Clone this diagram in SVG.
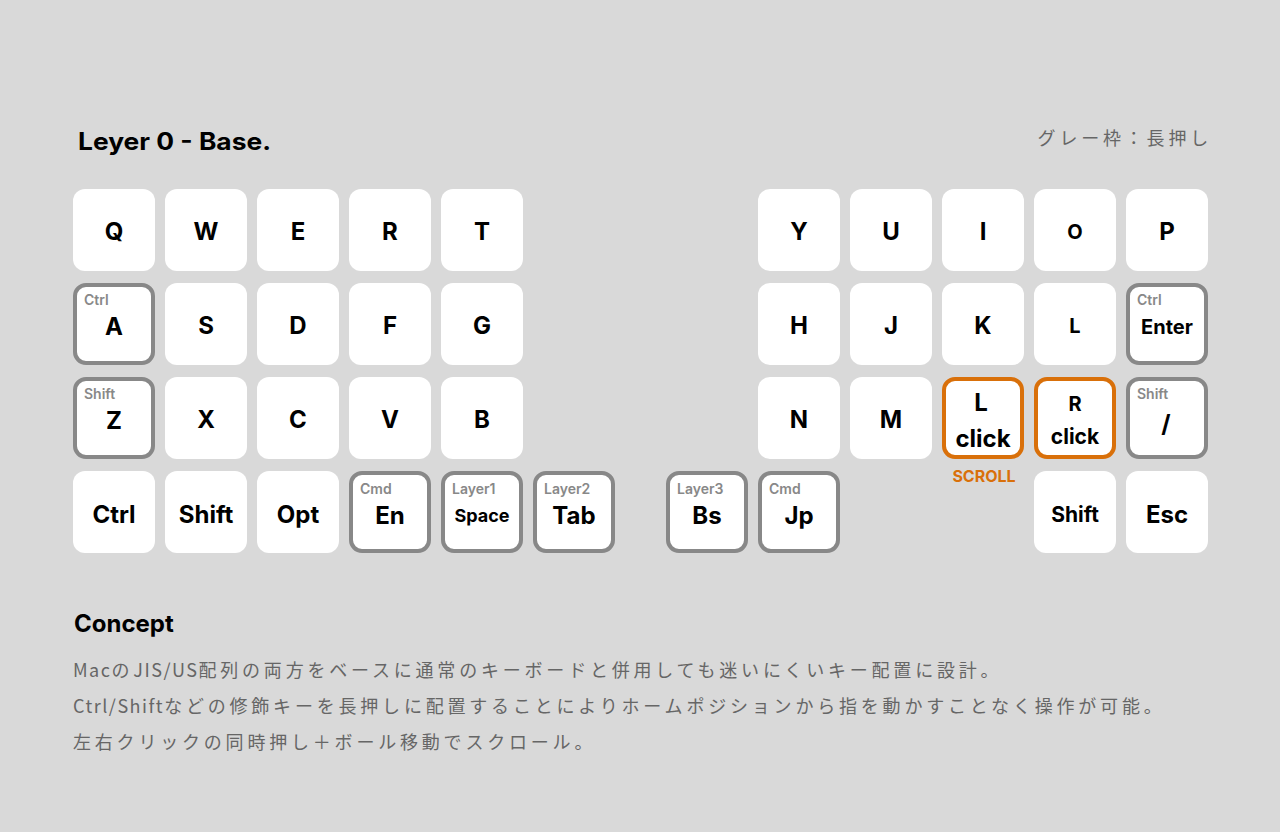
<svg xmlns="http://www.w3.org/2000/svg" width="1280" height="832" viewBox="0 0 1280 832">
<style>
.bg{fill:#d9d9d9}
.k{fill:#ffffff}
.km{fill:#ffffff;stroke:#888888;stroke-width:4}
.ko{fill:#ffffff;stroke:#d9700a;stroke-width:4}
.t{font-family:Inter,"Noto Sans",sans-serif;font-weight:700;fill:#000;text-anchor:middle}
.s{font-family:Inter,"Noto Sans",sans-serif;font-weight:600;fill:#888;font-size:14px}
.h{font-family:Inter,"Noto Sans",sans-serif;font-weight:700;fill:#000;font-size:24px}
.j{font-family:"Noto Sans CJK JP",sans-serif;fill:#666;font-size:18px;letter-spacing:3.8px}
.lt{letter-spacing:1.5px}
</style>
<rect class="bg" x="0" y="0" width="1280" height="832"/>
<text class="h" x="78" y="150" textLength="193" lengthAdjust="spacingAndGlyphs">Leyer 0 - Base.</text>
<text class="j" x="1212" y="145" text-anchor="end">グレー枠：長押し</text>

<g id="key-q"><rect class="k" x="73" y="189" width="82" height="82" rx="12"/><text class="t" x="114" y="240" font-size="24">Q</text></g>
<g id="key-w"><rect class="k" x="165" y="189" width="82" height="82" rx="12"/><text class="t" x="206" y="240" font-size="24">W</text></g>
<g id="key-e"><rect class="k" x="257" y="189" width="82" height="82" rx="12"/><text class="t" x="298" y="240" font-size="24">E</text></g>
<g id="key-r"><rect class="k" x="349" y="189" width="82" height="82" rx="12"/><text class="t" x="390" y="240" font-size="24">R</text></g>
<g id="key-t"><rect class="k" x="441" y="189" width="82" height="82" rx="12"/><text class="t" x="482" y="240" font-size="24">T</text></g>
<g id="key-y"><rect class="k" x="758" y="189" width="82" height="82" rx="12"/><text class="t" x="799" y="240" font-size="24">Y</text></g>
<g id="key-u"><rect class="k" x="850" y="189" width="82" height="82" rx="12"/><text class="t" x="891" y="240" font-size="24">U</text></g>
<g id="key-i"><rect class="k" x="942" y="189" width="82" height="82" rx="12"/><text class="t" x="983" y="240" font-size="24">I</text></g>
<g id="key-o"><rect class="k" x="1034" y="189" width="82" height="82" rx="12"/><text class="t" x="1075" y="239" font-size="20">O</text></g>
<g id="key-p"><rect class="k" x="1126" y="189" width="82" height="82" rx="12"/><text class="t" x="1167" y="240" font-size="24">P</text></g>

<g id="key-a"><rect class="km" x="75" y="285" width="78" height="78" rx="11"/><text class="s" x="84" y="305">Ctrl</text><text class="t" x="114" y="335" font-size="24">A</text></g>
<g id="key-s"><rect class="k" x="165" y="283" width="82" height="82" rx="12"/><text class="t" x="206" y="334" font-size="24">S</text></g>
<g id="key-d"><rect class="k" x="257" y="283" width="82" height="82" rx="12"/><text class="t" x="298" y="334" font-size="24">D</text></g>
<g id="key-f"><rect class="k" x="349" y="283" width="82" height="82" rx="12"/><text class="t" x="390" y="334" font-size="24">F</text></g>
<g id="key-g"><rect class="k" x="441" y="283" width="82" height="82" rx="12"/><text class="t" x="482" y="334" font-size="24">G</text></g>
<g id="key-h"><rect class="k" x="758" y="283" width="82" height="82" rx="12"/><text class="t" x="799" y="334" font-size="24">H</text></g>
<g id="key-j"><rect class="k" x="850" y="283" width="82" height="82" rx="12"/><text class="t" x="891" y="334" font-size="24">J</text></g>
<g id="key-k"><rect class="k" x="942" y="283" width="82" height="82" rx="12"/><text class="t" x="983" y="334" font-size="24">K</text></g>
<g id="key-l"><rect class="k" x="1034" y="283" width="82" height="82" rx="12"/><text class="t" x="1075" y="333" font-size="20">L</text></g>
<g id="key-enter"><rect class="km" x="1128" y="285" width="78" height="78" rx="11"/><text class="s" x="1137" y="305">Ctrl</text><text class="t" x="1167" y="334" font-size="20">Enter</text></g>

<g id="key-z"><rect class="km" x="75" y="379" width="78" height="78" rx="11"/><text class="s" x="84" y="399">Shift</text><text class="t" x="114" y="429" font-size="24">Z</text></g>
<g id="key-x"><rect class="k" x="165" y="377" width="82" height="82" rx="12"/><text class="t" x="206" y="428" font-size="24">X</text></g>
<g id="key-c"><rect class="k" x="257" y="377" width="82" height="82" rx="12"/><text class="t" x="298" y="428" font-size="24">C</text></g>
<g id="key-v"><rect class="k" x="349" y="377" width="82" height="82" rx="12"/><text class="t" x="390" y="428" font-size="24">V</text></g>
<g id="key-b"><rect class="k" x="441" y="377" width="82" height="82" rx="12"/><text class="t" x="482" y="428" font-size="24">B</text></g>
<g id="key-n"><rect class="k" x="758" y="377" width="82" height="82" rx="12"/><text class="t" x="799" y="428" font-size="24">N</text></g>
<g id="key-m"><rect class="k" x="850" y="377" width="82" height="82" rx="12"/><text class="t" x="891" y="428" font-size="24">M</text></g>
<g id="key-lclick"><rect class="ko" x="944" y="379" width="78" height="78" rx="11"/><text class="t" x="981" y="411" font-size="24">L</text><text class="t" x="983" y="447" font-size="24">click</text><text class="t" x="984" y="482" font-size="16" style="fill:#d9700a">SCROLL</text></g>
<g id="key-rclick"><rect class="ko" x="1036" y="379" width="78" height="78" rx="11"/><text class="t" x="1075" y="411" font-size="20">R</text><text class="t" x="1075" y="444" font-size="21">click</text></g>
<g id="key-slash"><rect class="km" x="1128" y="379" width="78" height="78" rx="11"/><text class="s" x="1137" y="399">Shift</text><text class="t" x="1166" y="432" font-size="24">/</text></g>

<g id="key-ctrl"><rect class="k" x="73" y="471" width="82" height="82" rx="12"/><text class="t" x="114" y="523" font-size="24">Ctrl</text></g>
<g id="key-shift-l"><rect class="k" x="165" y="471" width="82" height="82" rx="12"/><text class="t" x="206" y="523" font-size="24">Shift</text></g>
<g id="key-opt"><rect class="k" x="257" y="471" width="82" height="82" rx="12"/><text class="t" x="298" y="523" font-size="24">Opt</text></g>
<g id="key-en"><rect class="km" x="351" y="473" width="78" height="78" rx="11"/><text class="s" x="360" y="494">Cmd</text><text class="t" x="390" y="524" font-size="24">En</text></g>
<g id="key-space"><rect class="km" x="443" y="473" width="78" height="78" rx="11"/><text class="s" x="452" y="494">Layer1</text><text class="t" x="482" y="522" font-size="18">Space</text></g>
<g id="key-tab"><rect class="km" x="535" y="473" width="78" height="78" rx="11"/><text class="s" x="544" y="494">Layer2</text><text class="t" x="574" y="524" font-size="24">Tab</text></g>
<g id="key-bs"><rect class="km" x="668" y="473" width="78" height="78" rx="11"/><text class="s" x="677" y="494">Layer3</text><text class="t" x="707" y="524" font-size="24">Bs</text></g>
<g id="key-jp"><rect class="km" x="760" y="473" width="78" height="78" rx="11"/><text class="s" x="769" y="494">Cmd</text><text class="t" x="799" y="524" font-size="24">Jp</text></g>
<g id="key-shift-r"><rect class="k" x="1034" y="471" width="82" height="82" rx="12"/><text class="t" x="1075" y="522" font-size="21">Shift</text></g>
<g id="key-esc"><rect class="k" x="1126" y="471" width="82" height="82" rx="12"/><text class="t" x="1167" y="523" font-size="24">Esc</text></g>

<g id="connectors"></g>

<text class="h" x="74" y="632">Concept</text>
<text class="j" x="73" y="677"><tspan class="lt">Mac</tspan>の<tspan class="lt">JIS/US</tspan>配列の両方をベースに通常のキーボードと併用しても迷いにくいキー配置に設計。</text>
<text class="j" x="73" y="713"><tspan class="lt">Ctrl/Shift</tspan>などの修飾キーを長押しに配置することによりホームポジションから指を動かすことなく操作が可能。</text>
<text class="j" x="73" y="749">左右クリックの同時押し＋ボール移動でスクロール。</text>
</svg>
